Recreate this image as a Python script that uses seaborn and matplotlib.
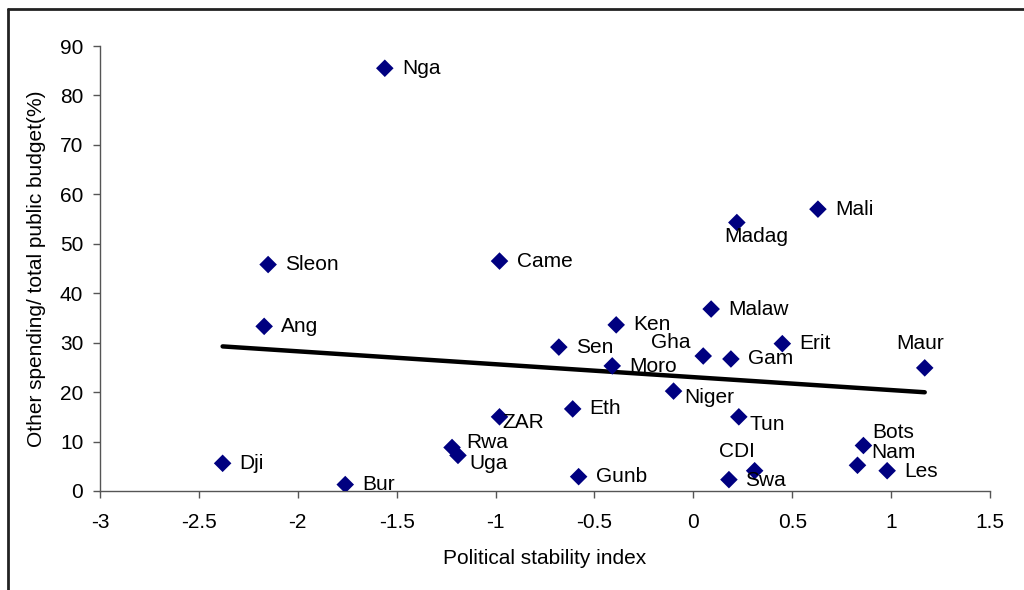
#!/usr/bin/env python3
"""Political stability vs other spending share, African countries."""

import numpy as np
import pandas as pd
import matplotlib
matplotlib.use('Agg')
import matplotlib.pyplot as plt
import seaborn as sns
from matplotlib.lines import Line2D

# country codes, stability index, other spending share (%)
countries = ['Nga', 'Sleon', 'Ang', 'Dji', 'Bur', 'Came', 'Rwa', 'Uga', 'ZAR',
             'Eth', 'Gunb', 'Sen', 'Ken', 'Moro', 'Niger', 'Gha', 'Gam', 'Malaw',
             'Madag', 'Mali', 'Erit', 'Tun', 'CDI', 'Swa', 'Maur', 'Bots', 'Nam',
             'Les']
stability = [-1.56, -2.15, -2.17, -2.38, -1.76, -0.98, -1.22, -1.19, -0.98,
             -0.61, -0.58, -0.68, -0.39, -0.41, -0.10, 0.05, 0.19, 0.09,
             0.22, 0.63, 0.45, 0.23, 0.31, 0.18, 1.17, 0.86, 0.83,
             0.98]
other_share = [85.5, 45.8, 33.3, 5.6, 1.3, 46.5, 8.8, 7.2, 15.0,
               16.6, 2.9, 29.1, 33.6, 25.3, 20.2, 27.3, 26.7, 36.8,
               54.3, 57.0, 29.8, 15.0, 4.1, 2.3, 24.9, 9.2, 5.2,
               4.1]

# label offsets in pixels (dx, dy) and horizontal alignment
label_pos = {
    'ZAR': (3, -6, 'left'), 'Gha': (-13, 14, 'right'), 'Madag': (19, -14, 'center'),
    'Maur': (-5, 24, 'center'), 'CDI': (-18, 19, 'center'), 'Bots': (9, 13, 'left'),
    'Nam': (14, 13, 'left'), 'Tun': (11, -8, 'left'), 'Rwa': (14, 5, 'left'),
    'Uga': (11, -8, 'left'), 'Swa': (16, -1, 'left'), 'Niger': (11, -6, 'left'),
    'Moro': (17, -1, 'left'), 'Les': (17, -1, 'left'),
}

df = pd.DataFrame({'country': countries, 'x': stability, 'y': other_share})

sns.set_style('white')
plt.rcParams['font.family'] = ['Liberation Sans', 'DejaVu Sans']
plt.rcParams['text.color'] = 'black'
plt.rcParams['axes.labelcolor'] = 'black'
plt.rcParams['xtick.labelcolor'] = 'black'
plt.rcParams['ytick.labelcolor'] = 'black'
fs = 15

fig = plt.figure(figsize=(10.24, 5.9), dpi=100)
ax = fig.add_axes([100 / 1024, 1 - 491 / 590, 890 / 1024, 445 / 590])

sns.regplot(data=df, x='x', y='y', ax=ax, ci=None, truncate=True,
            scatter=False, line_kws={'color': 'black', 'lw': 3.2})
sns.scatterplot(data=df, x='x', y='y', ax=ax, marker='D', s=80,
                color='#000080', edgecolor='none', zorder=3)

for c, xv, yv in zip(countries, stability, other_share):
    dx, dy, ha = label_pos.get(c, (17, 0, 'left'))
    ax.annotate(c, (xv, yv), xytext=(dx, dy), textcoords='offset pixels',
                ha=ha, va='center', fontsize=fs, color='black')

ax.set_xlim(-3, 1.5)
ax.set_ylim(0, 90)
ax.set_xticks(np.arange(-3, 1.51, 0.5))
ax.set_xticklabels(['-3', '-2.5', '-2', '-1.5', '-1', '-0.5', '0', '0.5', '1', '1.5'])
ax.set_yticks(range(0, 91, 10))
ax.tick_params(axis='both', labelsize=fs, length=5, width=1, color='#555555',
               labelcolor='black', direction='out', bottom=True, left=True)
ax.tick_params(axis='x', pad=11)
ax.tick_params(axis='y', pad=7)
for s in ['top', 'right']:
    ax.spines[s].set_visible(False)
for s in ['left', 'bottom']:
    ax.spines[s].set_color('#555555')
    ax.spines[s].set_linewidth(1)

ax.set_xlabel('Political stability index', fontsize=fs, labelpad=12, color='black')
ax.set_ylabel('Other spending/ total public budget(%)', fontsize=fs, labelpad=10,
              color='black')

# chart frame
fig.add_artist(Line2D([8 / 1024, 1], [1 - 9 / 590, 1 - 9 / 590], color='#222222', lw=2))
fig.add_artist(Line2D([8 / 1024, 8 / 1024], [0, 1 - 9 / 590], color='#222222', lw=2))

fig.savefig('out.png', dpi=100)
